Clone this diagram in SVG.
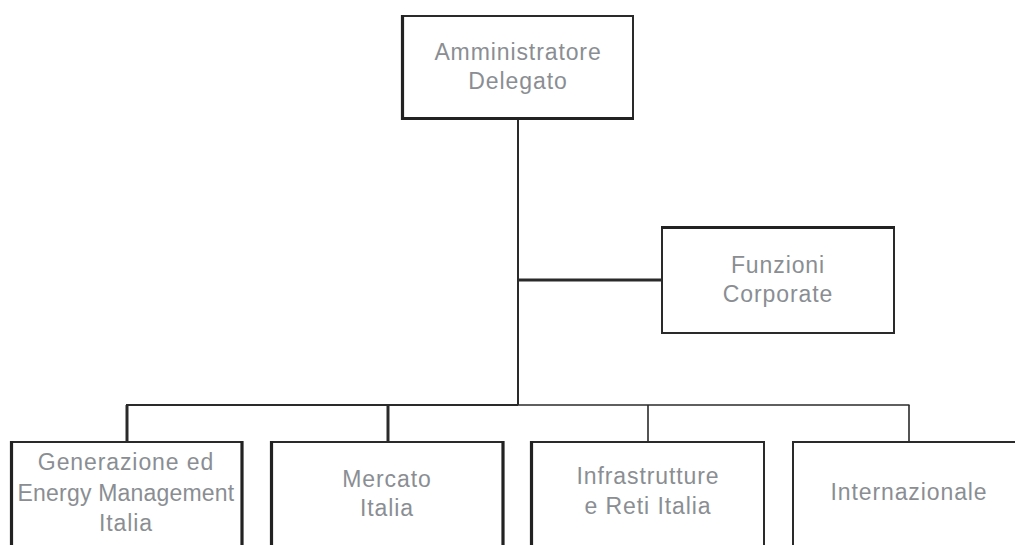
<svg xmlns="http://www.w3.org/2000/svg" width="1015" height="545" viewBox="0 0 1015 545">
  <style>
    .box { fill: #ffffff; stroke: #2a2a2a; stroke-width: 2; }
    .thick { stroke: #222222; stroke-width: 3.2; fill: none; }
    .conn { stroke: #2a2a2a; fill: none; }
    .lbl { font-family: "Liberation Sans", Arial, sans-serif; font-size: 23px; fill: #8a8e93; text-anchor: middle; letter-spacing: 0.9px; }
  </style>
  <rect width="1015" height="545" fill="#ffffff"/>
  <g id="connectors">
    <line class="conn" x1="518" y1="119" x2="518" y2="405" stroke-width="2"/>
    <line class="conn" x1="518" y1="280" x2="662" y2="280" stroke-width="3.2"/>
    <line class="conn" x1="126" y1="405" x2="518" y2="405" stroke-width="2.2"/>
    <line class="conn" x1="518" y1="405" x2="909.5" y2="405" stroke-width="1.6"/>
    <line class="conn" x1="127" y1="405" x2="127" y2="442" stroke-width="3"/>
    <line class="conn" x1="388" y1="405" x2="388" y2="442" stroke-width="3"/>
    <line class="conn" x1="648" y1="405" x2="648" y2="442" stroke-width="1.6"/>
    <line class="conn" x1="909" y1="405" x2="909" y2="442" stroke-width="1.6"/>
  </g>
  <g id="node-ad">
    <rect class="box" x="402" y="16" width="231" height="102"/>
    <path class="thick" d="M402.5,15 V118.5 H634"/>
    <text class="lbl" x="518" y="60">Amministratore</text>
    <text class="lbl" x="518" y="89">Delegato</text>
  </g>
  <g id="node-funzioni">
    <rect class="box" x="662" y="228" width="232" height="105"/>
    <line class="thick" x1="661" y1="227.5" x2="895" y2="227.5"/>
    <text class="lbl" x="778" y="273">Funzioni</text>
    <text class="lbl" x="778" y="302">Corporate</text>
  </g>
  <g id="node-generazione">
    <rect class="box" x="11" y="442" width="231" height="120"/>
    <line class="thick" x1="11.5" y1="441" x2="11.5" y2="545"/>
    <line class="thick" x1="242" y1="441" x2="242" y2="545"/>
    <text class="lbl" x="126" y="470">Generazione ed</text>
    <text class="lbl" x="126" y="501" style="letter-spacing:0.2px">Energy Management</text>
    <text class="lbl" x="126" y="531">Italia</text>
  </g>
  <g id="node-mercato">
    <rect class="box" x="271" y="442" width="232" height="120"/>
    <line class="thick" x1="271.5" y1="441" x2="271.5" y2="545"/>
    <line class="thick" x1="503" y1="441" x2="503" y2="545"/>
    <text class="lbl" x="387" y="487">Mercato</text>
    <text class="lbl" x="387" y="516">Italia</text>
  </g>
  <g id="node-infrastrutture">
    <rect class="box" x="531" y="442" width="233" height="120"/>
    <line class="thick" x1="531.5" y1="441" x2="531.5" y2="545"/>
    <text class="lbl" x="648" y="484">Infrastrutture</text>
    <text class="lbl" x="648" y="514">e Reti Italia</text>
  </g>
  <g id="node-internazionale">
    <rect class="box" x="793" y="442" width="235" height="120"/>
    <text class="lbl" x="909" y="500">Internazionale</text>
  </g>
</svg>
